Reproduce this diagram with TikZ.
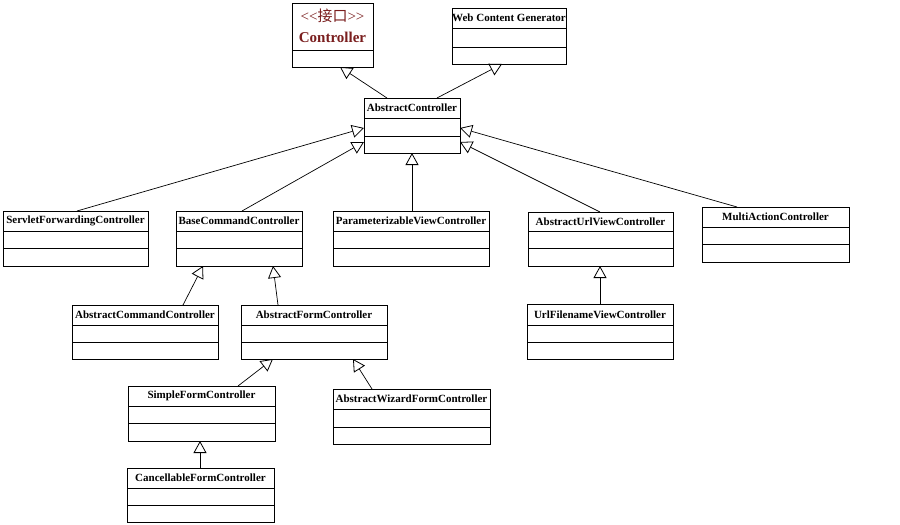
\documentclass[tikz,border=0pt]{standalone}
\usepackage{fontspec}
\setmainfont{Liberation Serif}
\newfontfamily\cjkfont{Noto Sans CJK SC}
\usetikzlibrary{arrows.meta,calc}
\definecolor{maroon}{RGB}{122,30,30}
\tikzset{
  clsbox/.style={draw=black, line width=0.8pt, fill=white, inner sep=0pt, outer sep=0pt, anchor=north west},
  hdr/.style={inner sep=0pt, font=\bfseries\fontsize{11}{12}\selectfont},
  divline/.style={line width=0.8pt},
  inherit/.style={line width=0.7pt, -{Triangle[open, length=12pt, width=13pt, line width=0.8pt]}},
}
\newcommand{\umlcls}[8]{%
  \node[clsbox, minimum width=#4pt, minimum height=#5pt] (#1) at (#2,#3) {};
  \draw[divline] ($(#1.north west)+(0,#6)$) -- ($(#1.north east)+(0,#6)$);
  \draw[divline] ($(#1.north west)+(0,#7)$) -- ($(#1.north east)+(0,#7)$);
  \node[hdr] (#1-t) at ($(#1.north)+(0,#6/2)$) {#8};
}
\begin{document}
\begin{tikzpicture}[x=1pt, y=-1pt]
\useasboundingbox[fill=white] (0,0) rectangle (900,525);
% interface Controller
\node[clsbox, minimum width=81pt, minimum height=64pt] (ctrl) at (292,3) {};
\draw[divline] ($(ctrl.north west)+(0,47)$) -- ($(ctrl.north east)+(0,47)$);
\node[inner sep=0pt, text=maroon, font=\fontsize{15}{16}\selectfont] (ctrl-s) at ($(ctrl.north)+(0,13)$) {{<}{<}{\cjkfont 接口}{>}{>}};
\node[inner sep=0pt, text=maroon, font=\bfseries\fontsize{15}{16}\selectfont] (ctrl-t) at ($(ctrl.north)+(0,34)$) {Controller};
% classes
\umlcls{wcg}{452}{8}{114}{56}{20}{39}{Web Content Generator}
\umlcls{ac}{364}{98}{96}{55}{20}{38}{AbstractController}
\umlcls{sfc}{3}{211}{145}{55}{20}{37}{ServletForwardingController}
\umlcls{bcc}{176}{211}{126}{55}{20}{37}{BaseCommandController}
\umlcls{pvc}{333}{211}{156}{55}{20}{37}{ParameterizableViewController}
\umlcls{auvc}{528}{212}{145}{54}{19}{36}{AbstractUrlViewController}
\umlcls{mac}{702}{207}{147}{55}{20}{37}{MultiActionController}
\umlcls{acc}{72}{305}{146}{54}{20}{37}{AbstractCommandController}
\umlcls{afc}{241}{305}{146}{54}{20}{37}{AbstractFormController}
\umlcls{ufvc}{527}{304}{146}{55}{21}{38}{UrlFilenameViewController}
\umlcls{sifc}{128}{386}{147}{55}{20}{37}{SimpleFormController}
\umlcls{awfc}{333}{389}{157}{55}{20}{38}{AbstractWizardFormController}
\umlcls{cfc}{127}{468}{147}{54}{20}{37}{CancellableFormController}
% inheritance connectors
\draw[inherit] ($(ac.north west)+(23,0)$) -- ($(ctrl.south west)+(48,0)$);
\draw[inherit] ($(ac.north west)+(73,0)$) -- ($(wcg.south west)+(50,0)$);
\draw[inherit] ($(sfc.north west)+(74,0)$) -- ($(ac.north west)+(0,30)$);
\draw[inherit] ($(bcc.north west)+(66,0)$) -- ($(ac.north west)+(0,44)$);
\draw[inherit] ($(pvc.north west)+(79,0)$) -- ($(ac.south west)+(48,0)$);
\draw[inherit] ($(auvc.north west)+(72,0)$) -- ($(ac.north east)+(0,44)$);
\draw[inherit] ($(mac.north west)+(35,0)$) -- ($(ac.north east)+(0,30)$);
\draw[inherit] ($(acc.north west)+(111,0)$) -- ($(bcc.south west)+(27,0)$);
\draw[inherit] ($(afc.north west)+(37,0)$) -- ($(bcc.south west)+(97,0)$);
\draw[inherit] ($(ufvc.north west)+(73,0)$) -- ($(auvc.south west)+(72,0)$);
\draw[inherit] ($(sifc.north west)+(110,0)$) -- ($(afc.south west)+(32,0)$);
\draw[inherit] ($(awfc.north west)+(39,0)$) -- ($(afc.south west)+(112,0)$);
\draw[inherit] ($(cfc.north west)+(73,0)$) -- ($(sifc.south west)+(72,0)$);
\end{tikzpicture}
\end{document}
